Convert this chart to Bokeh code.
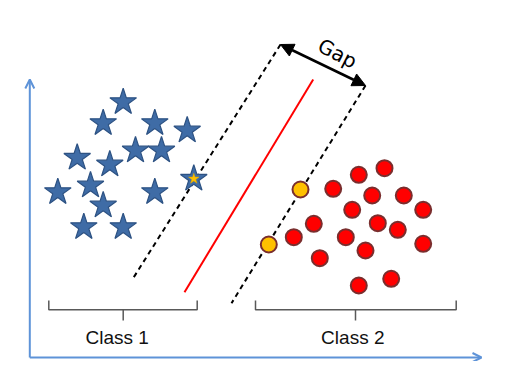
from bokeh.plotting import figure
from bokeh.models import Range1d, Arrow, OpenHead, NormalHead
from bokeh.core.properties import value
from bokeh.embed import file_html
from bokeh.resources import INLINE

# Class 1 (stars) positions in picture coordinates
star_x = [122.7, 102.7, 154.3, 186.7, 135, 161, 76.7, 109.3, 193.3, 57.3, 90, 154.3, 102.7, 83.3, 122.7]
star_y = [101.7, 122.7, 122.7, 130, 150, 150, 157.3, 164, 178.3, 191.7, 185, 191.7, 205, 226.7, 226.7]
# support vector of class 1
sv1_x = [193.3]
sv1_y = [178.3]

# Class 2 (circles)
circ_x = [332.7, 358.3, 384, 371.7, 403.3, 351.7, 422.7, 313.3, 293.3, 377.3, 397.3, 345.3, 365, 422.7, 319.3, 358.3, 390.7]
circ_y = [188.3, 174.3, 167.7, 195, 195, 209.3, 209.3, 223.3, 236.7, 222.7, 229.3, 236.7, 250, 243.3, 257.7, 285, 278.3]
# support vectors of class 2
sv2_x = [300, 268.3]
sv2_y = [189, 244]

# separating line and margins
sep_x = [312.7, 184]
sep_y = [79, 291.7]
marg1_x = [280, 133.3]
marg1_y = [44, 276.7]
marg2_x = [365, 231]
marg2_y = [85, 302.7]

# brackets
br_left = [48.3, 255]
br_right = [196.7, 455.7]
br_mid = [122.7, 355]
labels = ["Class 1", "Class 2"]
label_x = [116.7, 352.3]

p = figure(width=502, height=361, output_backend="svg", toolbar_location=None,
           x_range=Range1d(0, 502), y_range=Range1d(361, 0), min_border=0)
p.axis.visible = False
p.grid.visible = False
p.outline_line_color = None
p.background_fill_color = "white"
p.border_fill_color = "white"

axis_col = "#5E93D8"
p.add_layout(Arrow(end=OpenHead(size=9, line_color=axis_col, line_width=2),
                   x_start=29.3, y_start=357, x_end=29.3, y_end=79,
                   line_color=axis_col, line_width=2))
p.add_layout(Arrow(end=OpenHead(size=9, line_color=axis_col, line_width=2),
                   x_start=29.3, y_start=357, x_end=481, y_end=357,
                   line_color=axis_col, line_width=2))

# margins and separator
p.line(marg1_x, marg1_y, line_color="black", line_width=2, line_dash="5 4")
p.line(marg2_x, marg2_y, line_color="black", line_width=2, line_dash="5 4")
p.line(sep_x, sep_y, line_color="#FF0000", line_width=2)

# gap arrow
p.add_layout(Arrow(start=NormalHead(size=13, fill_color="black", line_color="black"),
                   end=NormalHead(size=13, fill_color="black", line_color="black"),
                   x_start=280, y_start=44, x_end=365, y_end=85,
                   line_color="black", line_width=2.5))
p.text([337], [53], text=["Gap"], angle=-0.47, text_align="center", text_baseline="middle",
       text_font=value("DejaVu Sans"), text_font_size="20px", text_color="black")

# points
p.scatter(star_x, star_y, marker="star", size=28, fill_color="#3F6CA6", line_color="#2D5283", line_width=1.2)
p.scatter(sv1_x, sv1_y, marker="star", size=11, fill_color="#FFC000", line_color="#E0A800", line_width=0.5)
p.scatter(circ_x, circ_y, marker="circle", size=16, fill_color="#FF0000", line_color="#7A2E2E", line_width=2)
p.scatter(sv2_x, sv2_y, marker="circle", size=16, fill_color="#FFC000", line_color="#7A2E2E", line_width=2)

# brackets
bx, by = [], []
for l, r, m in zip(br_left, br_right, br_mid):
    bx.append([l, l, r, r]); by.append([300, 309.3, 309.3, 300])
    bx.append([m, m]); by.append([309.3, 320])
p.multi_line(bx, by, line_color="#595959", line_width=1.5)

p.text(label_x, [337, 337], text=labels, text_align="center", text_baseline="middle",
       text_font=value("Liberation Sans"), text_font_size="19px", text_color="#111111")

open("out.html", "w").write(file_html(p, INLINE))
